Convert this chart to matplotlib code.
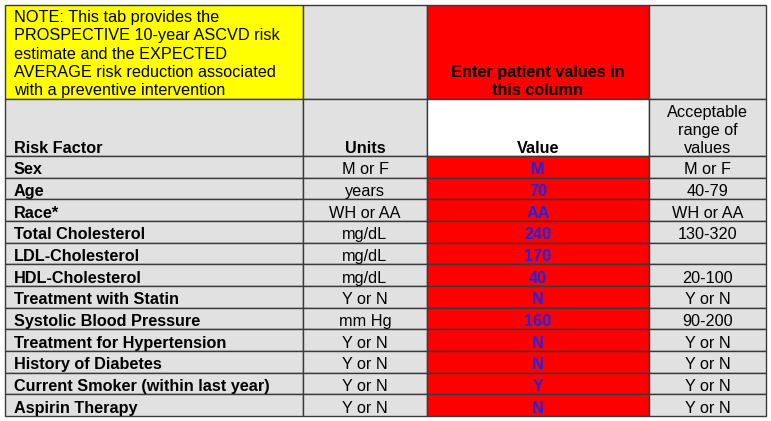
import matplotlib.pyplot as plt
from matplotlib.patches import Rectangle

# ---------------------------------------------------
# table content
# ---------------------------------------------------
NOTE_TEXT = ("NOTE: This tab provides the\nPROSPECTIVE 10-year ASCVD risk\n"
             "estimate and the EXPECTED\nAVERAGE risk reduction associated\n"
             "with a preventive intervention")
ENTER_TEXT = "Enter patient values in\nthis column"
HEADERS = ["Risk Factor", "Units", "Value", "Acceptable\nrange of\nvalues"]

RISK_FACTORS = ["Sex", "Age", "Race*", "Total Cholesterol", "LDL-Cholesterol",
                "HDL-Cholesterol", "Treatment with Statin", "Systolic Blood Pressure",
                "Treatment for Hypertension", "History of Diabetes",
                "Current Smoker (within last year)", "Aspirin Therapy"]
UNITS = ["M or F", "years", "WH or AA", "mg/dL", "mg/dL", "mg/dL", "Y or N",
         "mm Hg", "Y or N", "Y or N", "Y or N", "Y or N"]
VALUES = ["M", "70", "AA", "240", "170", "40", "N", "160", "N", "N", "Y", "N"]
RANGES = ["M or F", "40-79", "WH or AA", "130-320", "", "20-100", "Y or N",
          "90-200", "Y or N", "Y or N", "Y or N", "Y or N"]
# ---------------------------------------------------

COL_X = [5, 303, 427, 649, 766]
TOP = 5
HEAD1 = 99
HEAD2 = 156
BOTTOM = 416

GRAY = '#e1e1e1'
YELLOW = '#ffff00'
RED = '#ff0000'
BLUE = '#2323e0'
LINE = '#3a3a3a'
FONT = 'Liberation Sans'
FS = 11.7


def cell(ax, x0, y0, x1, y1, color):
    ax.add_patch(Rectangle((x0, y0), x1 - x0, y1 - y0, facecolor=color,
                           edgecolor=LINE, linewidth=1.0))


def main():
    fig = plt.figure(figsize=(7.71, 4.21), dpi=100)
    ax = fig.add_axes([0, 0, 1, 1])
    ax.set_xlim(0, 771)
    ax.set_ylim(421, 0)
    ax.axis('off')

    row_h = (BOTTOM - HEAD2) / len(RISK_FACTORS)
    mids = [(COL_X[i] + COL_X[i + 1]) / 2 for i in range(4)]

    # header row 1
    cell(ax, COL_X[0], TOP, COL_X[1], HEAD1, YELLOW)
    cell(ax, COL_X[1], TOP, COL_X[2], HEAD1, GRAY)
    cell(ax, COL_X[2], TOP, COL_X[3], HEAD1, RED)
    cell(ax, COL_X[3], TOP, COL_X[4], HEAD1, GRAY)
    ax.text(COL_X[0] + 9, HEAD1 - 4, NOTE_TEXT, ha='left', va='baseline',
            fontsize=FS, family=FONT, linespacing=1.27)
    ax.text(mids[2], HEAD1 - 4, ENTER_TEXT, ha='center', va='baseline',
            fontsize=FS, family=FONT, fontweight='bold', linespacing=1.25)

    # header row 2
    colors2 = [GRAY, GRAY, 'white', GRAY]
    for i in range(4):
        cell(ax, COL_X[i], HEAD1, COL_X[i + 1], HEAD2, colors2[i])
    ax.text(COL_X[0] + 9, HEAD2 - 3, HEADERS[0], ha='left', va='baseline',
            fontsize=FS, family=FONT, fontweight='bold')
    ax.text(mids[1], HEAD2 - 3, HEADERS[1], ha='center', va='baseline',
            fontsize=FS, family=FONT, fontweight='bold')
    ax.text(mids[2], HEAD2 - 3, HEADERS[2], ha='center', va='baseline',
            fontsize=FS, family=FONT, fontweight='bold')
    ax.text(mids[3], HEAD2 - 3, HEADERS[3], ha='center', va='baseline',
            fontsize=FS, family=FONT, linespacing=1.25)

    # data rows
    for r in range(len(RISK_FACTORS)):
        y0 = HEAD2 + r * row_h
        y1 = y0 + row_h
        cell(ax, COL_X[0], y0, COL_X[1], y1, GRAY)
        cell(ax, COL_X[1], y0, COL_X[2], y1, GRAY)
        cell(ax, COL_X[2], y0, COL_X[3], y1, RED)
        cell(ax, COL_X[3], y0, COL_X[4], y1, GRAY)
        yb = y1 - 3.5
        ax.text(COL_X[0] + 9, yb, RISK_FACTORS[r], ha='left', va='baseline',
                fontsize=FS, family=FONT, fontweight='bold')
        ax.text(mids[1], yb, UNITS[r], ha='center', va='baseline',
                fontsize=FS, family=FONT)
        ax.text(mids[2], yb, VALUES[r], ha='center', va='baseline',
                fontsize=FS, family=FONT, fontweight='bold', color=BLUE)
        ax.text(mids[3], yb, RANGES[r], ha='center', va='baseline',
                fontsize=FS, family=FONT)

    fig.savefig('out.png', dpi=100)


if __name__ == '__main__':
    main()
